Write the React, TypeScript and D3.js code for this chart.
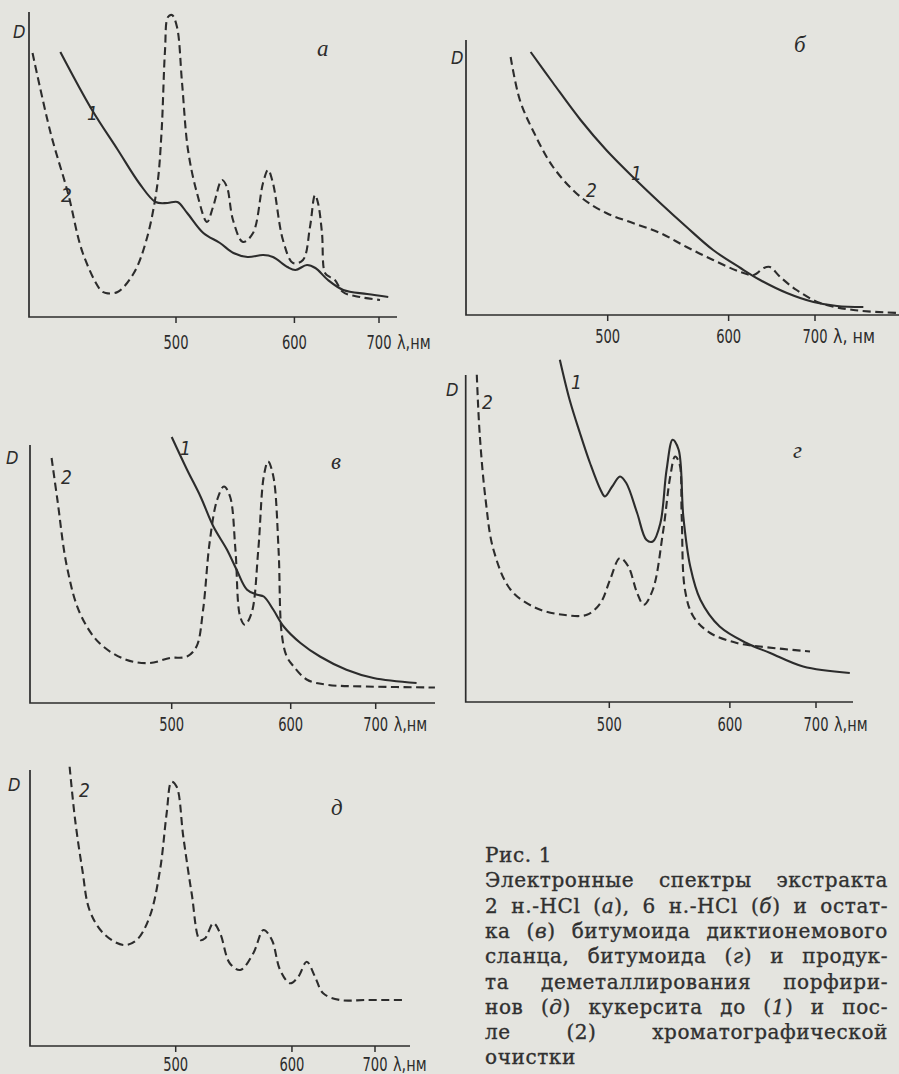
import React, { useMemo } from "react";
import * as d3 from "d3";

type Pt = [number, number];

const TICKS = [500, 600, 700];

// а — экстракт 2 н.-HCl
const aCurve1: Pt[] = [[430, 1.06], [447, 0.83], [462, 0.67], [476, 0.53], [486, 0.46], [494, 0.456], [501, 0.46], [508, 0.416], [520, 0.336], [533, 0.296], [544, 0.256], [556, 0.24], [570, 0.248], [579, 0.24], [593, 0.2], [601, 0.188], [613, 0.208], [622, 0.196], [636, 0.148], [654, 0.108], [684, 0.092], [713, 0.08]];
const aCurve2: Pt[] = [[416, 1.056], [425, 0.736], [434, 0.496], [442, 0.256], [452, 0.108], [455, 0.096], [462, 0.1], [472, 0.176], [480, 0.308], [487, 0.52], [490, 0.736], [492.4, 1.068], [494.4, 1.2], [497.2, 1.208], [500.7, 1.16], [504.3, 0.936], [508.6, 0.668], [515.2, 0.496], [522.8, 0.38], [527.5, 0.44], [534.6, 0.548], [538.6, 0.52], [543.6, 0.388], [552, 0.3], [560.8, 0.336], [569.8, 0.536], [574.4, 0.588], [579, 0.536], [588.6, 0.308], [598.6, 0.216], [608.8, 0.228], [616.2, 0.36], [621.6, 0.488], [624.9, 0.456], [629.3, 0.336], [632.7, 0.176], [638.3, 0.16], [644.1, 0.148], [653.6, 0.1], [674.7, 0.08], [701.4, 0.068]];

// б — экстракт 6 н.-HCl
const bCurve1: Pt[] = [[452, 1.052], [465, 0.928], [482, 0.78], [499, 0.66], [518, 0.552], [539, 0.448], [561, 0.352], [585, 0.26], [612, 0.188], [633, 0.14], [664, 0.088], [698, 0.052], [731, 0.036], [772, 0.032]];
const bCurve2: Pt[] = [[441, 1.032], [446, 0.86], [454, 0.728], [465, 0.592], [482, 0.472], [499, 0.408], [518, 0.368], [539, 0.328], [561, 0.272], [585, 0.22], [612, 0.172], [626, 0.16], [637, 0.188], [644, 0.192], [656, 0.152], [676, 0.1], [707, 0.048], [756, 0.02], [835, 0.008]];

// в — остаток битумоида
const cCurve1: Pt[] = [[500, 1.064], [511, 0.933], [521, 0.826], [531, 0.706], [542, 0.613], [550, 0.533], [559, 0.453], [568, 0.433], [574, 0.426], [583, 0.373], [593, 0.306], [610, 0.24], [631, 0.186], [662, 0.133], [697, 0.1], [761, 0.08]];
const cCurve2: Pt[] = [[428, 0.98], [431, 0.813], [436, 0.546], [443, 0.36], [454, 0.24], [470, 0.173], [485, 0.16], [499, 0.18], [511, 0.186], [518, 0.226], [523, 0.373], [528, 0.64], [534, 0.813], [539.5, 0.866], [544.5, 0.826], [549, 0.613], [553, 0.346], [557, 0.313], [563, 0.36], [569, 0.613], [574, 0.906], [578, 0.966], [583, 0.906], [588, 0.613], [591, 0.28], [596, 0.186], [603, 0.146], [617, 0.093], [639, 0.073], [688, 0.066], [792, 0.062]];

// г — битумоид кукерсита
const dCurve1: Pt[] = [[468, 1.369], [474, 1.209], [480.5, 1.076], [487, 0.956], [494, 0.849], [497, 0.822], [502, 0.862], [507.5, 0.902], [512, 0.876], [520, 0.756], [527, 0.649], [532, 0.642], [538, 0.716], [543, 0.929], [548, 1.049], [553, 1.009], [557, 0.742], [563, 0.542], [572, 0.409], [590, 0.302], [617, 0.236], [643, 0.196], [683, 0.142], [749, 0.116]];
const dCurve2: Pt[] = [[422.6, 1.309], [424, 1.076], [427, 0.809], [431, 0.609], [440, 0.449], [454, 0.376], [470, 0.349], [485, 0.349], [494, 0.396], [500.5, 0.489], [507.5, 0.576], [513.5, 0.542], [520, 0.436], [525, 0.389], [532, 0.449], [540, 0.676], [546, 0.902], [550, 0.982], [553.6, 0.956], [555.6, 0.742], [558.4, 0.449], [565.7, 0.342], [581, 0.276], [607, 0.236], [631.5, 0.222], [692, 0.202]];

// д — продукт деметаллирования
const eCurve2: Pt[] = [[434, 1.117], [437, 0.904], [441, 0.704], [445, 0.544], [453, 0.451], [465, 0.404], [473.5, 0.424], [482, 0.517], [489, 0.704], [493.6, 0.931], [497, 1.057], [500.7, 1.037], [505.5, 0.837], [511.7, 0.611], [518, 0.424], [522, 0.431], [528.5, 0.491], [534, 0.451], [542, 0.331], [551, 0.304], [562.6, 0.371], [572, 0.464], [580, 0.424], [588, 0.304], [598, 0.251], [606.6, 0.277], [615.6, 0.337], [624.8, 0.277], [634, 0.211], [654, 0.184], [688.5, 0.184], [745, 0.184]];

const CAPTION = [
  "Рис. 1",
  "Электронные спектры экстракта",
  "2 н.-HCl (*а*), 6 н.-HCl (*б*) и остат-",
  "ка (*в*) битумоида диктионемового",
  "сланца, битумоида (*г*) и продук-",
  "та деметаллирования порфири-",
  "нов (*д*) кукерсита до (*1*) и пос-",
  "ле (2) хроматографической",
  "очистки",
];

const INK = "#2c2c2c";
const BG = "#e4e4df";

interface Panel {
  letter: string;
  unit: string;
  axisX: number; axisRight: number; axisTop: number; axisY: number;
  x500: number; x700: number; tickBase: number;
  dPos: Pt; letterPos: Pt;
  labels: { t: string; x: number; y: number }[];
  solid?: Pt[]; dashed: Pt[];
}

const panels: Panel[] = [
  { letter: "а", unit: "λ,нм", axisX: 29, axisRight: 397, axisTop: 12, axisY: 317, x500: 176, x700: 379, tickBase: 349,
    dPos: [13, 38], letterPos: [317, 56], labels: [{ t: "1", x: 87, y: 120 }, { t: "2", x: 61, y: 202 }],
    solid: aCurve1, dashed: aCurve2 },
  { letter: "б", unit: "λ, нм", axisX: 466, axisRight: 899, axisTop: 40, axisY: 315, x500: 607.7, x700: 815, tickBase: 343,
    dPos: [451, 64], letterPos: [794, 52], labels: [{ t: "1", x: 631, y: 180 }, { t: "2", x: 586, y: 197 }],
    solid: bCurve1, dashed: bCurve2 },
  { letter: "в", unit: "λ,нм", axisX: 30, axisRight: 435, axisTop: 445, axisY: 703, x500: 171.7, x700: 375.7, tickBase: 731,
    dPos: [6, 464], letterPos: [331, 469], labels: [{ t: "1", x: 180, y: 455 }, { t: "2", x: 61, y: 484 }],
    solid: cCurve1, dashed: cCurve2 },
  { letter: "г", unit: "λ,нм", axisX: 465.7, axisRight: 853, axisTop: 375, axisY: 702, x500: 609.3, x700: 816, tickBase: 731,
    dPos: [446, 396], letterPos: [793, 458], labels: [{ t: "1", x: 571, y: 389 }, { t: "2", x: 482, y: 409 }],
    solid: dCurve1, dashed: dCurve2 },
  { letter: "д", unit: "λ,нм", axisX: 30, axisRight: 410, axisTop: 770, axisY: 1046, x500: 175.7, x700: 375, tickBase: 1071,
    dPos: [8, 791], letterPos: [331, 815], labels: [{ t: "2", x: 79, y: 797 }],
    dashed: eCurve2 },
];

const tickFont = "'DejaVu Sans Condensed', 'Liberation Sans Narrow', 'DejaVu Sans', sans-serif";
const capFont = "'DejaVu Serif', serif";
const CAP_SIZE = 20;
const CAP_LS = 0.6;

function PanelView({ p }: { p: Panel }) {
  const x = d3.scalePow().exponent(-1).domain([500, 700]).range([p.x500, p.x700]);
  const y = d3.scaleLinear().domain([0, 1]).range([p.axisY, p.axisY - 250]);
  const line = d3.line<Pt>().x(d => x(d[0])).y(d => y(d[1])).curve(d3.curveCatmullRom.alpha(0.5));
  return (
    <g>
      <path d={`M${p.axisX},${p.axisTop}V${p.axisY}H${p.axisRight}`} fill="none" stroke={INK} strokeWidth={1.7} />
      {TICKS.map(t => (
        <g key={t}>
          <line x1={x(t)} x2={x(t)} y1={p.axisY} y2={p.axisY + 6} stroke={INK} strokeWidth={1.5} />
          <text x={x(t)} y={p.tickBase} textAnchor="middle" fontFamily={tickFont} fontSize={19} fill={INK}
            textLength={25} lengthAdjust="spacingAndGlyphs">{t}</text>
        </g>
      ))}
      <text x={x(700) + 18} y={p.tickBase} fontFamily={tickFont} fontSize={19} fill={INK}
        textLength={p.unit.length * 8.4} lengthAdjust="spacingAndGlyphs">{p.unit}</text>
      {p.solid && <path d={line(p.solid) || ""} fill="none" stroke={INK} strokeWidth={2.1} />}
      <path d={line(p.dashed) || ""} fill="none" stroke={INK} strokeWidth={2.1} strokeDasharray="8 4.5" />
      <text x={p.dPos[0]} y={p.dPos[1]} fontFamily={tickFont} fontStyle="italic" fontSize={18} fill={INK}>D</text>
      <text x={p.letterPos[0]} y={p.letterPos[1]} fontFamily="'Liberation Serif', serif" fontStyle="italic" fontSize={23} fill={INK}>{p.letter}</text>
      {p.labels.map(l => (
        <text key={l.t} x={l.x} y={l.y} fontFamily={tickFont} fontStyle="italic" fontSize={19} fill={INK}>{l.t}</text>
      ))}
    </g>
  );
}

type Seg = { t: string; it: boolean };
function parse(word: string): Seg[] {
  return word.split("*").map((t, i) => ({ t, it: i % 2 === 1 })).filter(s => s.t.length > 0);
}

function Caption() {
  const left = 485, right = 888, base0 = 862, step = 25.3;
  const layout = useMemo(() => {
    const ctx = document.createElement("canvas").getContext("2d")!;
    const measure = (segs: Seg[]) => segs.reduce((w, s) => {
      ctx.font = `${s.it ? "italic " : ""}${CAP_SIZE}px 'DejaVu Serif'`;
      return w + ctx.measureText(s.t).width + CAP_LS * s.t.length;
    }, 0);
    return CAPTION.map((lineText, i) => {
      const words = lineText.split(" ").map(parse);
      const widths = words.map(measure);
      const justify = i > 0 && i < CAPTION.length - 1;
      const total = widths.reduce((a, b) => a + b, 0);
      const gap = justify && words.length > 1 ? (right - left - total) / (words.length - 1) : CAP_SIZE * 0.35;
      let cx = left;
      return words.map((segs, j) => {
        const pos = cx;
        cx += widths[j] + gap;
        return { segs, x: pos };
      });
    });
  }, []);
  return (
    <g fontFamily={capFont} fontSize={CAP_SIZE} fill="#303030" stroke="#303030" strokeWidth={0.35} style={{ letterSpacing: `${CAP_LS}px` }}>
      {layout.map((words, i) => words.map((w, j) => (
        <text key={`${i}-${j}`} x={w.x} y={base0 + i * step}>
          {w.segs.map((s, k) => <tspan key={k} fontStyle={s.it ? "italic" : "normal"}>{s.t}</tspan>)}
        </text>
      )))}
    </g>
  );
}

export default function App() {
  if (typeof document !== "undefined") document.body.style.margin = "0";
  return (
    <svg width={899} height={1074} style={{ position: "absolute", left: 0, top: 0, display: "block" }}>
      <rect width={899} height={1074} fill={BG} />
      {panels.map(p => <PanelView key={p.letter} p={p} />)}
      <Caption />
    </svg>
  );
}
